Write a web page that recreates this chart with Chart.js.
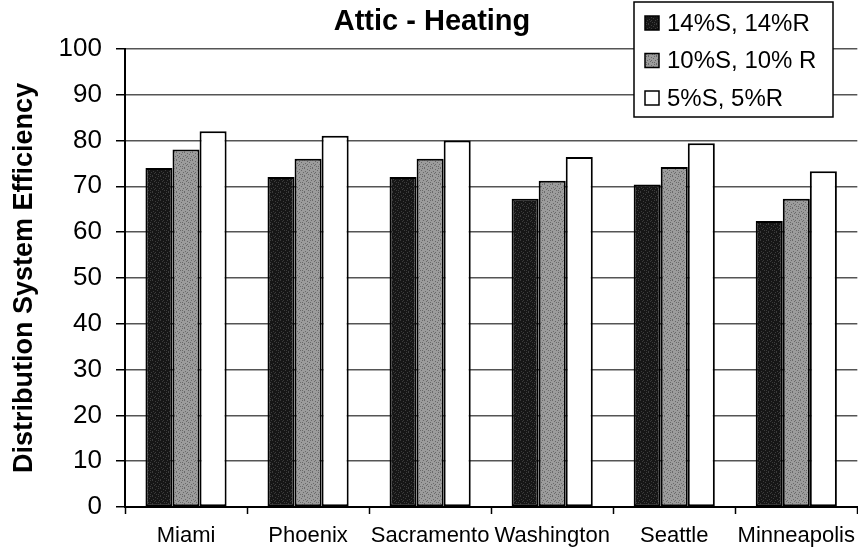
<!DOCTYPE html>
<html>
<head>
<meta charset="utf-8">
<script src="https://cdn.jsdelivr.net/npm/chart.js@4.4.0/dist/chart.umd.min.js"></script>
<style>
  html, body { margin: 0; padding: 0; background: #fff; overflow: hidden; }
  #wrap { width: 858px; height: 552px; overflow: hidden; }
</style>
</head>
<body>
<div id="wrap"><canvas id="chart" width="864" height="552"></canvas></div>
<script>
var cities = ["Miami", "Phoenix", "Sacramento", "Washington", "Seattle", "Minneapolis"];
var leak14 = [74, 72, 72, 67.3, 70.4, 62.4];
var leak10 = [78, 76, 76, 71.2, 74.2, 67.3];
var leak5 = [82, 81, 80, 76.4, 79.4, 73.3];
var seriesNames = ["14%S, 14%R", "10%S, 10% R", "5%S, 5%R"];
var yTicks = [0, 10, 20, 30, 40, 50, 60, 70, 80, 90, 100];

var FONT = "'Liberation Sans', Arial, Helvetica, sans-serif";

// halftone-ish fills: a fixed 8x8 dot layout over a base colour
var dots = [[0,0],[3,1],[6,0],[1,3],[5,2],[2,5],[7,4],[4,6],[0,7],[6,6],[3,4]];
function stipple(base, dot) {
    var p = document.createElement("canvas");
    p.width = 8; p.height = 8;
    var g = p.getContext("2d");
    g.fillStyle = base;
    g.fillRect(0, 0, 8, 8);
    g.fillStyle = dot;
    dots.forEach(function(d) { g.fillRect(d[0], d[1], 1, 1); });
    return g.createPattern(p, "repeat");
}
var darkFill = stipple("#161616", "#3c3c3c");
var greyFill = stipple("#9c9c9c", "#6a6a6a");

// legend box drawn inside the plot, top right
var boxLegend = {
    id: "boxLegend",
    afterDraw: function(chart) {
        var ctx = chart.ctx;
        var x0 = 634, y0 = 2, w = 199, h = 115;
        ctx.save();
        ctx.fillStyle = "#fff";
        ctx.fillRect(x0, y0, w, h);
        ctx.strokeStyle = "#000";
        ctx.lineWidth = 1.5;
        ctx.strokeRect(x0, y0, w, h);
        ctx.font = "24px " + FONT;
        ctx.textBaseline = "middle";
        chart.data.datasets.forEach(function(ds, i) {
            var cy = y0 + 21 + i * 37.5;
            ctx.fillStyle = ds.backgroundColor;
            ctx.fillRect(x0 + 11, cy - 7, 14, 14);
            ctx.lineWidth = 1.5;
            ctx.strokeRect(x0 + 11, cy - 7, 14, 14);
            ctx.fillStyle = "#000";
            ctx.fillText(ds.label, x0 + 33, cy + 1);
        });
        ctx.restore();
    }
};

new Chart(document.getElementById("chart"), {
    type: "bar",
    data: {
        labels: cities,
        datasets: [
            { label: seriesNames[0], data: leak14, backgroundColor: darkFill },
            { label: seriesNames[1], data: leak10, backgroundColor: greyFill },
            { label: seriesNames[2], data: leak5, backgroundColor: "#ffffff" }
        ]
    },
    options: {
        responsive: false,
        animation: false,
        layout: { padding: 0 },
        datasets: {
            bar: {
                borderColor: "#000",
                borderWidth: 2,
                borderSkipped: false,
                barPercentage: 1.0,
                categoryPercentage: 0.665
            }
        },
        plugins: {
            legend: { display: false },
            tooltip: { enabled: false },
            title: {
                display: true,
                text: "Attic - Heating",
                color: "#000",
                font: { family: FONT, size: 29, weight: "bold" },
                padding: { top: 5, bottom: 9 }
            }
        },
        scales: {
            x: {
                grid: {
                    offset: true,
                    drawOnChartArea: false,
                    drawTicks: true,
                    tickLength: 7,
                    tickColor: "#000",
                    tickWidth: 1.5
                },
                border: { display: true, color: "#000", width: 2 },
                ticks: {
                    color: "#000",
                    font: { family: FONT, size: 22 },
                    padding: 9,
                    maxRotation: 0,
                    autoSkip: false
                },
                afterFit: function(s) { s.height = 45; }
            },
            y: {
                min: 0,
                max: 100,
                afterBuildTicks: function(s) {
                    s.ticks = yTicks.map(function(v) { return { value: v }; });
                },
                grid: {
                    color: "#555",
                    lineWidth: 1.5,
                    drawTicks: true,
                    tickLength: 9,
                    tickColor: "#000",
                    tickWidth: 1.5
                },
                border: { display: true, color: "#000", width: 2 },
                ticks: {
                    color: "#000",
                    font: { family: FONT, size: 26 },
                    padding: 14
                },
                title: {
                    display: true,
                    text: "Distribution System Efficiency",
                    color: "#000",
                    font: { family: FONT, size: 27, weight: "bold" },
                    padding: { top: 8, bottom: 0 }
                },
                afterFit: function(s) { s.width = 125; }
            }
        }
    },
    plugins: [boxLegend]
});
</script>
</body>
</html>
